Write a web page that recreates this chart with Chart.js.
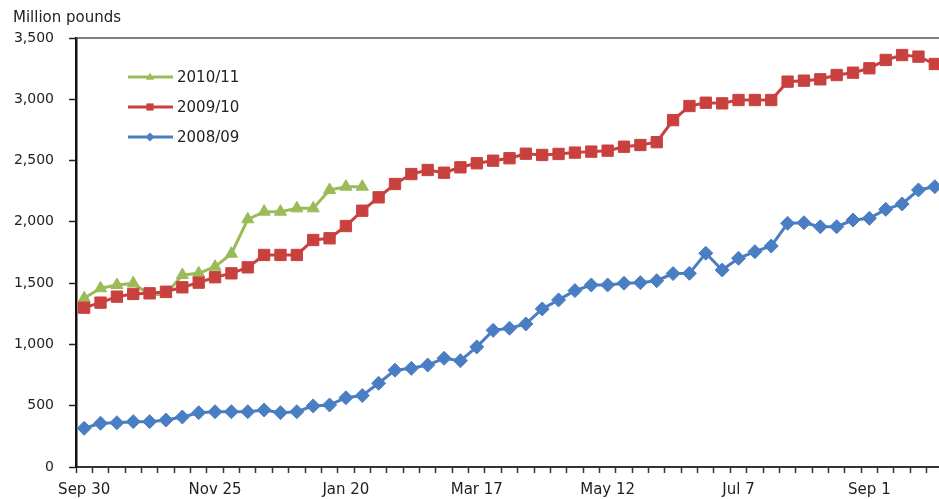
<!DOCTYPE html>
<html>
<head>
<meta charset="utf-8">
<script src="https://cdn.jsdelivr.net/npm/chart.js@4"></script>
<style>
  html, body { margin: 0; padding: 0; background: #fff; overflow: hidden; }
  canvas { display: block; }
</style>
</head>
<body>
<canvas id="c" width="952" height="499"></canvas>
<script>
// Marketing year weeks, beginning Sep 30
const weekLabels = [
  "Sep 30","Oct 7","Oct 14","Oct 21","Oct 28","Nov 4","Nov 11","Nov 18",
  "Nov 25","Dec 2","Dec 9","Dec 16","Dec 23","Dec 30","Jan 6","Jan 13",
  "Jan 20","Jan 27","Feb 3","Feb 10","Feb 17","Feb 24","Mar 3","Mar 10",
  "Mar 17","Mar 24","Mar 31","Apr 7","Apr 14","Apr 21","Apr 28","May 5",
  "May 12","May 19","May 26","Jun 2","Jun 9","Jun 16","Jun 23","Jun 30",
  "Jul 7","Jul 14","Jul 21","Jul 28","Aug 4","Aug 11","Aug 18","Aug 25",
  "Sep 1","Sep 8","Sep 15","Sep 22","Sep 29"
];

// Dates printed under the axis
const tickLabels = ["Sep 30","Nov 25","Jan 20","Mar 17","May 12","Jul 7","Sep 1"];

// Cumulative quantities, million pounds
const year2010_11 = [
  1376,1458,1485,1499,1405,1410,1566,1580,1634,1740,2021,2083,2083,2110,2110,2260,2287,2287
];
const year2009_10 = [
  1300,1341,1390,1412,1417,1430,1466,1504,1548,1580,1629,1730,1730,1730,1852,1866,
  1966,2091,2200,2309,2390,2423,2401,2445,2478,2499,2519,2556,2546,2554,2565,2573,
  2581,2613,2627,2650,2830,2945,2972,2967,2994,2994,2994,3144,3152,3163,3198,3217,
  3253,3321,3361,3348,3288
];
const year2008_09 = [
  316,357,361,370,370,383,408,443,451,451,451,465,443,451,498,506,
  565,583,683,790,805,832,887,867,980,1115,1132,1167,1290,1363,1439,1485,
  1485,1499,1504,1520,1578,1580,1744,1607,1703,1757,1803,1988,1993,1960,1960,2015,
  2029,2102,2146,2260,2287
];

const seriesNames = ["2010/11", "2009/10", "2008/09"];
const seriesColors = ["#9BBB59", "#C9413F", "#4A7EC2"];
const seriesStyles = ["triangle", "rect", "rectRot"];

const FONT = "'DejaVu Sans', 'Liberation Sans', Arial, sans-serif";

// Unit caption, plot frame and in-plot legend
const decorations = {
  id: 'decorations',
  afterDraw(chart) {
    const { ctx, chartArea } = chart;
    ctx.save();
    // frame along the top and right of the plot area
    ctx.strokeStyle = '#555';
    ctx.lineWidth = 1.5;
    ctx.beginPath();
    ctx.moveTo(chartArea.left, chartArea.top);
    ctx.lineTo(chartArea.right, chartArea.top);
    ctx.lineTo(chartArea.right, chartArea.bottom);
    ctx.stroke();

    // unit caption
    ctx.fillStyle = '#222';
    ctx.font = '15px ' + FONT;
    ctx.textAlign = 'left';
    ctx.textBaseline = 'middle';
    ctx.fillText('Million pounds', 13, 18);

    // legend
    const rows = [77, 107, 137];
    chart.data.datasets.forEach((ds, i) => {
      const y = rows[i];
      ctx.strokeStyle = ds.borderColor;
      ctx.lineWidth = 3;
      ctx.beginPath();
      ctx.moveTo(128, y);
      ctx.lineTo(173, y);
      ctx.stroke();
      ctx.fillStyle = ds.borderColor;
      const cx = 150, r = 4.5;
      ctx.beginPath();
      if (ds.pointStyle === 'triangle') {
        ctx.moveTo(cx, y - r);
        ctx.lineTo(cx + r * 0.9, y + r * 0.6);
        ctx.lineTo(cx - r * 0.9, y + r * 0.6);
      } else if (ds.pointStyle === 'rect') {
        ctx.rect(cx - r * 0.8, y - r * 0.8, r * 1.6, r * 1.6);
      } else {
        ctx.moveTo(cx, y - r);
        ctx.lineTo(cx + r, y);
        ctx.lineTo(cx, y + r);
        ctx.lineTo(cx - r, y);
      }
      ctx.closePath();
      ctx.fill();
      ctx.fillStyle = '#222';
      ctx.font = '15px ' + FONT;
      ctx.fillText(ds.label, 177, y + 1);
    });
    ctx.restore();
  }
};

const seriesData = [year2010_11, year2009_10, year2008_09];
const radii = [7, 8, 7];
const drawOrder = [1, 0, 2];

new Chart(document.getElementById('c'), {
  type: 'line',
  data: {
    labels: weekLabels,
    datasets: seriesData.map((vals, i) => ({
      label: seriesNames[i],
      data: vals,
      borderColor: seriesColors[i],
      backgroundColor: seriesColors[i],
      pointBackgroundColor: seriesColors[i],
      pointBorderColor: seriesColors[i],
      pointBorderWidth: 1,
      pointStyle: seriesStyles[i],
      pointRadius: radii[i],
      borderWidth: 3,
      tension: 0,
      fill: false,
      order: drawOrder[i]
    }))
  },
  options: {
    responsive: false,
    animation: false,
    devicePixelRatio: 1,
    layout: { padding: { top: 38, left: 6, right: 4, bottom: 0 } },
    plugins: {
      legend: { display: false },
      tooltip: { enabled: false }
    },
    scales: {
      x: {
        type: 'category',
        offset: true,
        grid: {
          offset: true,
          drawOnChartArea: false,
          drawTicks: true,
          tickLength: 6,
          tickColor: '#333',
          tickWidth: 1.5
        },
        border: { display: true, color: '#333', width: 2 },
        ticks: {
          autoSkip: false,
          maxRotation: 0,
          minRotation: 0,
          padding: 8,
          color: '#222',
          font: { family: FONT, size: 15 },
          callback: function (value, index) {
            const lbl = weekLabels[index];
            return tickLabels.includes(lbl) ? lbl : '';
          }
        },
        afterFit: s => { s.height = 32; }
      },
      y: {
        min: 0,
        max: 3500,
        grid: {
          drawOnChartArea: false,
          drawTicks: true,
          tickLength: 7,
          tickColor: '#222',
          tickWidth: 1.5
        },
        border: { display: true, color: '#111', width: 2.5 },
        ticks: {
          stepSize: 500,
          padding: 15,
          color: '#222',
          font: { family: FONT, size: 14 },
          callback: v => v.toLocaleString('en-US')
        },
        afterFit: s => { s.width = 70; }
      }
    }
  },
  plugins: [decorations]
});
</script>
</body>
</html>
